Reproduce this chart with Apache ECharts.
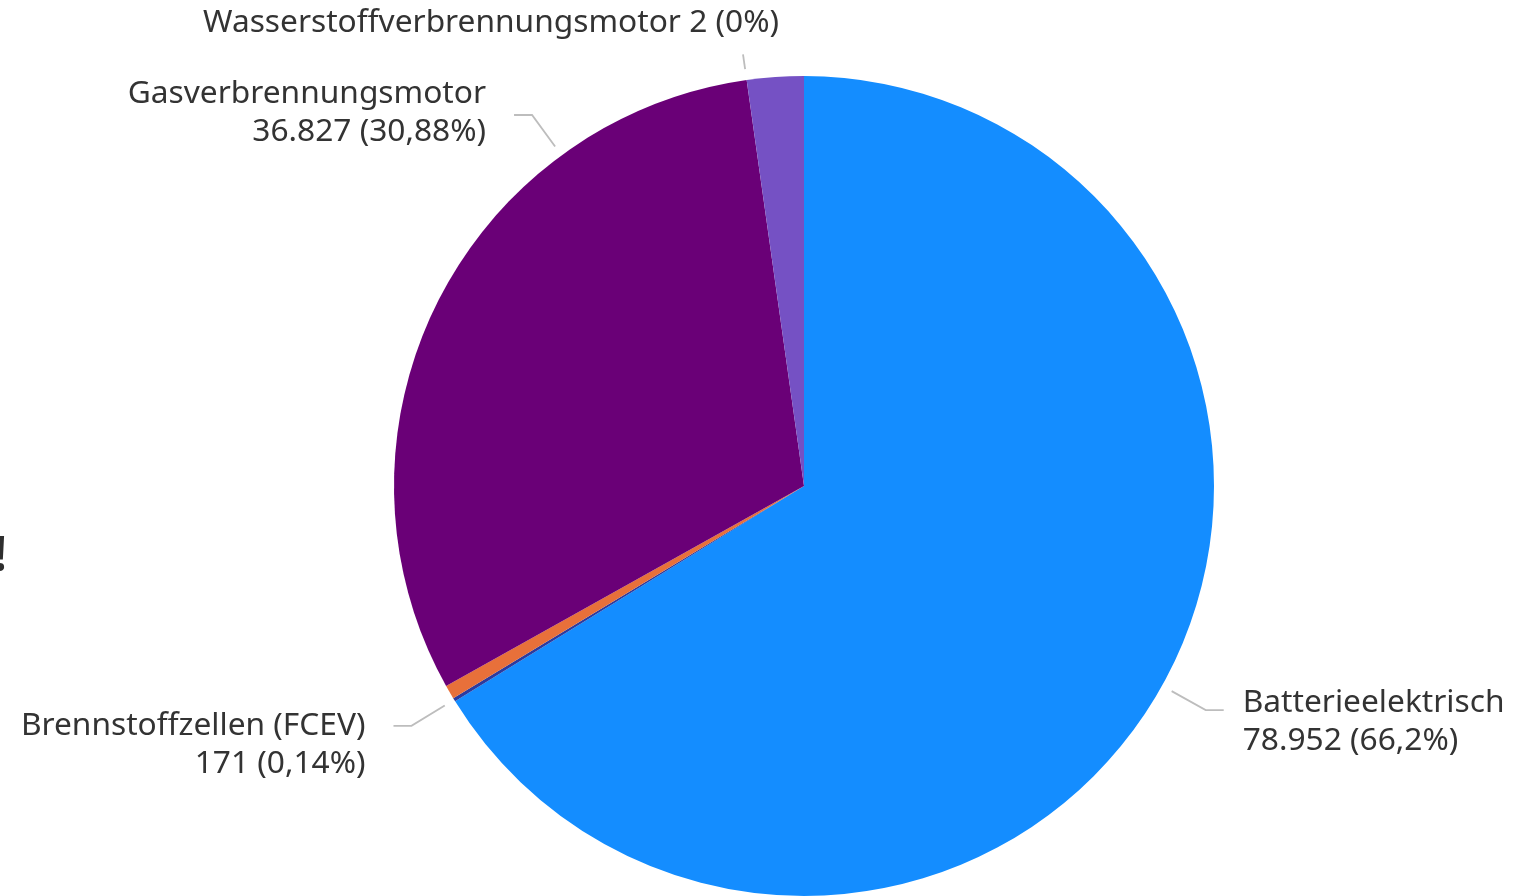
<!DOCTYPE html>
<html>
<head>
<meta charset="utf-8">
<title>Antriebsarten</title>
<script src="https://cdn.jsdelivr.net/npm/echarts@6/dist/echarts.min.js"></script>
<style>
  html, body { margin: 0; padding: 0; background: #fff; overflow: hidden; }
  #chart { width: 1534px; height: 896px; }
</style>
</head>
<body>
<div id="chart"></div>
<script>
// Slices, clockwise from 12 o'clock
const categories = [
  'Batterieelektrisch',
  'Brennstoffzellen (FCEV)',
  'Sonstige 1',
  'Gasverbrennungsmotor',
  'Wasserstoffverbrennungsmotor',
  'Sonstige 2'
];
const values = [78952, 171, 650, 36827, 2, 2663];
const colors = ['#148dff', '#2c3b9f', '#e8703a', '#6a0077', '#5c2a9c', '#7551c4'];
// which slices carry a label, and which label is written on one line
const labelled = [true, true, false, true, true, false];
const inlineLabel = [false, false, false, false, true, false];

const CX = 804, CY = 486, R = 410;
const total = values.reduce((a, b) => a + b, 0);

// mid-angle of every slice in degrees, clockwise from the top
const midAngles = [];
let acc = 0;
values.forEach(v => { midAngles.push((acc + v / 2) / total * 360); acc += v; });

function fmtNum(v) {
  return String(v).replace(/\B(?=(\d{3})+(?!\d))/g, '.');
}
function fmtPct(p) {
  return String(p).replace('.', ',');
}

function labelFormatter(p) {
  const tail = fmtNum(p.value) + ' (' + fmtPct(p.percent) + '%)';
  return inlineLabel[p.dataIndex] ? p.name + ' ' + tail : p.name + '\n' + tail;
}

// vertical nudge of each two-line label against its leader line
const labelShift = [12, 19, 0, -2, 0, 0];

// leader lines start a little off the rim, run outwards, then turn horizontal
function placeLabel(params) {
  const i = params.dataIndex;
  if (!labelled[i]) return;
  let th = midAngles[i] * Math.PI / 180;
  if (i === 3) {
    // the large left slice gets its label lifted towards the top
    const yLine = 115;
    th = 2 * Math.PI - Math.acos((CY - yLine) / (R + 50));
  }
  const dx = Math.sin(th), dy = -Math.cos(th);
  const p1 = [CX + (R + 11) * dx, CY + (R + 11) * dy];
  if (inlineLabel[i]) {
    const p2 = [CX + (R + 26) * dx, CY + (R + 26) * dy];
    return {
      x: p2[0] + 36, y: p2[1] - 31,
      align: 'right', verticalAlign: 'middle',
      labelLinePoints: [p1, p2, p2]
    };
  }
  const p2 = [CX + (R + 50) * dx, CY + (R + 50) * dy];
  const side = dx < 0 ? -1 : 1;
  const p3 = [p2[0] + side * 18, p2[1]];
  return {
    x: p3[0] + (side < 0 ? -28 : 19),
    y: p3[1] + labelShift[i],
    align: side < 0 ? 'right' : 'left',
    verticalAlign: 'middle',
    labelLinePoints: [p1, p2, p3]
  };
}

const chart = echarts.init(document.getElementById('chart'), null, { renderer: 'canvas' });
chart.setOption({
  animation: false,
  backgroundColor: '#ffffff',
  graphic: [{
    type: 'text',
    x: -7, y: 557,
    style: {
      text: '!',
      font: 'bold 49px "Noto Sans"',
      fill: '#2e2e2e',
      verticalAlign: 'middle'
    }
  }],
  series: [{
    type: 'pie',
    center: [CX, CY],
    radius: R,
    startAngle: 90,
    clockwise: true,
    avoidLabelOverlap: false,
    emphasis: { disabled: true },
    itemStyle: { borderWidth: 0 },
    label: {
      position: 'outside',
      formatter: labelFormatter,
      color: '#333333',
      fontFamily: 'Noto Sans',
      fontSize: 31.7,
      lineHeight: 38
    },
    labelLine: {
      length: 40,
      length2: 18,
      lineStyle: { color: '#bdbdbd', width: 1.8 }
    },
    labelLayout: placeLabel,
    data: categories.map((name, i) => ({
      name: name,
      value: values[i],
      itemStyle: { color: colors[i] },
      label: { show: labelled[i] },
      labelLine: { show: labelled[i] }
    }))
  }]
});
</script>
</body>
</html>
